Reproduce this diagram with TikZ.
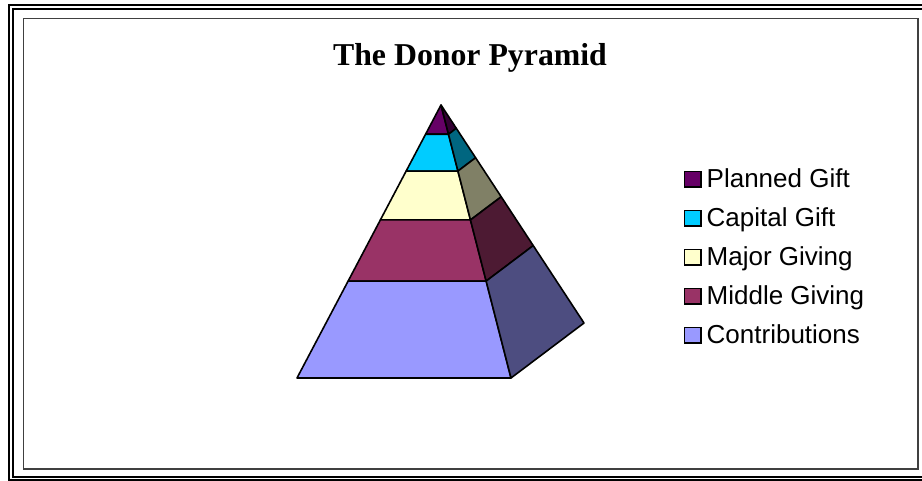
\documentclass[tikz,border=0pt]{standalone}
\usepackage{fontspec}
\setmainfont{Liberation Serif}
\setsansfont{Liberation Sans}
\usetikzlibrary{calc}
\definecolor{PlannedFront}{HTML}{660066}
\definecolor{PlannedSide}{HTML}{330033}
\definecolor{CapitalFront}{HTML}{00CCFF}
\definecolor{CapitalSide}{HTML}{006680}
\definecolor{MajorFront}{HTML}{FFFFCC}
\definecolor{MajorSide}{HTML}{808066}
\definecolor{MiddleFront}{HTML}{993366}
\definecolor{MiddleSide}{HTML}{4D1A33}
\definecolor{ContribFront}{HTML}{9999FF}
\definecolor{ContribSide}{HTML}{4D4D80}
\definecolor{FrameGray}{HTML}{404040}
\tikzset{
  donor face/.style={draw=black, line width=1.6pt, line join=round},
  donor key/.style={
    draw=black, line width=1.5pt, minimum width=16.5pt, minimum height=15.5pt,
    inner sep=0pt, anchor=south west
  },
  donor label/.style={
    font=\sffamily\fontsize{26}{30}\selectfont, anchor=base west, inner sep=0pt
  },
  donor title/.style={
    font=\rmfamily\bfseries\fontsize{31.8}{36}\selectfont, anchor=base, inner sep=0pt
  }
}

\begin{document}
\begin{tikzpicture}[x=1pt, y=-1pt]
  \useasboundingbox (0,0) rectangle (922,481);
  \fill[white] (0,0) rectangle (922,481);

  % frame
  \draw[black, line width=2.2pt] (9,5) rectangle (940,480.5);
  \draw[black, line width=1.6pt] (12.8,8.8) rectangle (940,477);
  \draw[FrameGray, line width=1.4pt] (23.3,18.8) rectangle (917.8,469);

  \node[donor title] (title) at (470,66) {The Donor Pyramid};

  % pyramid corners
  \coordinate (apex) at (441,105);
  \coordinate (fl) at (297,378);
  \coordinate (fr) at (511,378);
  \coordinate (br) at (584,323);

  % layer boundaries
  \coordinate (l1) at ($(apex)!0.107!(fl)$);
  \coordinate (f1) at ($(apex)!0.107!(fr)$);
  \coordinate (b1) at ($(apex)!0.107!(br)$);
  \coordinate (l2) at ($(apex)!0.242!(fl)$);
  \coordinate (f2) at ($(apex)!0.242!(fr)$);
  \coordinate (b2) at ($(apex)!0.242!(br)$);
  \coordinate (l3) at ($(apex)!0.421!(fl)$);
  \coordinate (f3) at ($(apex)!0.421!(fr)$);
  \coordinate (b3) at ($(apex)!0.421!(br)$);
  \coordinate (l4) at ($(apex)!0.645!(fl)$);
  \coordinate (f4) at ($(apex)!0.645!(fr)$);
  \coordinate (b4) at ($(apex)!0.645!(br)$);

  \filldraw[donor face, fill=PlannedFront] (apex) -- (l1) -- (f1) -- cycle;
  \filldraw[donor face, fill=PlannedSide] (apex) -- (f1) -- (b1) -- cycle;
  \filldraw[donor face, fill=CapitalFront] (l1) -- (l2) -- (f2) -- (f1) -- cycle;
  \filldraw[donor face, fill=CapitalSide] (f1) -- (f2) -- (b2) -- (b1) -- cycle;
  \filldraw[donor face, fill=MajorFront] (l2) -- (l3) -- (f3) -- (f2) -- cycle;
  \filldraw[donor face, fill=MajorSide] (f2) -- (f3) -- (b3) -- (b2) -- cycle;
  \filldraw[donor face, fill=MiddleFront] (l3) -- (l4) -- (f4) -- (f3) -- cycle;
  \filldraw[donor face, fill=MiddleSide] (f3) -- (f4) -- (b4) -- (b3) -- cycle;
  \filldraw[donor face, fill=ContribFront] (l4) -- (fl) -- (fr) -- (f4) -- cycle;
  \filldraw[donor face, fill=ContribSide] (f4) -- (fr) -- (br) -- (b4) -- cycle;

  % legend
  \node[donor key, fill=PlannedFront] (key1) at (683.5,188) {};
  \node[donor label] (lab1) at ([xshift=5pt]key1.south east) {Planned Gift};
  \node[donor key, fill=CapitalFront] (key2) at (683.5,227) {};
  \node[donor label] (lab2) at ([xshift=5pt]key2.south east) {Capital Gift};
  \node[donor key, fill=MajorFront] (key3) at (683.5,266) {};
  \node[donor label] (lab3) at ([xshift=5pt]key3.south east) {Major Giving};
  \node[donor key, fill=MiddleFront] (key4) at (683.5,305) {};
  \node[donor label] (lab4) at ([xshift=5pt]key4.south east) {Middle Giving};
  \node[donor key, fill=ContribFront] (key5) at (683.5,344) {};
  \node[donor label] (lab5) at ([xshift=5pt]key5.south east) {Contributions};
\end{tikzpicture}
\end{document}
